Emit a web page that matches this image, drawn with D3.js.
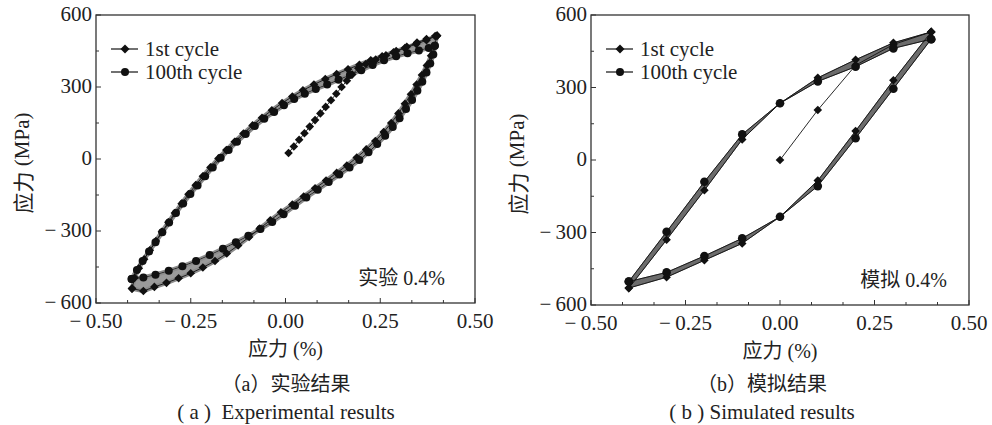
<!DOCTYPE html>
<html>
<head>
<meta charset="utf-8">
<script src="https://cdn.jsdelivr.net/npm/d3@7/dist/d3.min.js"></script>
<style>
  body { margin: 0; background: #fff; }
  text { fill: #222; }
</style>
</head>
<body>
<svg id="chart" width="992" height="425"></svg>
<script>
// ---- axis ticks ----
const xTicks = [-0.5, -0.25, 0, 0.25, 0.5];
const yTicks = [-600, -300, 0, 300, 600];

// ---- (a) experimental, [strain %, stress MPa] ----
const expFirstLoad = [[0.008,25],[0.022,52],[0.036,80],[0.050,107],[0.064,135],[0.078,162],[0.092,190],[0.106,217],
  [0.120,245],[0.134,272],[0.148,300],[0.162,326],[0.176,352],[0.192,378],[0.212,396],[0.238,414],[0.265,432],
  [0.292,450],[0.320,468],[0.347,485],[0.372,500],[0.395,512]];
const expFirstDown = [[0.400,514],[0.393,470],[0.384,430],[0.373,390],[0.360,350],[0.346,310],[0.331,270],[0.315,230],
  [0.298,190],[0.279,150],[0.259,112],[0.237,75],[0.213,40],[0.188,6],[0.162,-27],[0.135,-58],[0.107,-90],[0.078,-122],
  [0.048,-156],[0.018,-190],[-0.012,-222],[-0.040,-255],[-0.068,-290],[-0.096,-325],[-0.125,-360],[-0.155,-394],
  [-0.186,-425],[-0.218,-452],[-0.250,-476],[-0.282,-497],[-0.314,-516],[-0.346,-533],[-0.375,-550],[-0.405,-540]];
const expFirstUp = [[-0.405,-540],[-0.398,-495],[-0.387,-455],[-0.373,-418],[-0.358,-380],[-0.342,-342],[-0.326,-303],
  [-0.309,-264],[-0.292,-225],[-0.274,-186],[-0.256,-147],[-0.237,-109],[-0.218,-72],[-0.198,-35],[-0.177,2],
  [-0.156,37],[-0.134,72],[-0.111,106],[-0.087,140],[-0.062,172],[-0.036,203],[-0.009,233],[0.018,260],[0.046,286],
  [0.075,310],[0.105,333],[0.135,354],[0.165,374],[0.195,393],[0.225,411],[0.255,428],[0.285,445],[0.315,462],
  [0.345,479],[0.372,495],[0.400,514]];
const expHundredDown = [[0.394,472],[0.390,435],[0.382,398],[0.372,360],[0.361,322],[0.348,284],[0.334,246],[0.318,208],
  [0.301,170],[0.283,133],[0.263,97],[0.242,62],[0.219,28],[0.195,-4],[0.169,-35],[0.142,-65],[0.114,-96],[0.085,-128],
  [0.055,-160],[0.025,-195],[-0.005,-230],[-0.035,-262],[-0.066,-292],[-0.098,-320],[-0.131,-347],[-0.165,-374],
  [-0.200,-400],[-0.236,-425],[-0.272,-447],[-0.308,-466],[-0.343,-482],[-0.375,-494],[-0.406,-500]];
const expHundredUp = [[-0.406,-500],[-0.392,-462],[-0.377,-425],[-0.360,-385],[-0.343,-347],[-0.325,-305],[-0.307,-265],
  [-0.289,-225],[-0.270,-185],[-0.251,-146],[-0.232,-110],[-0.212,-72],[-0.192,-35],[-0.171,5],[-0.150,38],[-0.128,72],
  [-0.105,104],[-0.081,137],[-0.056,168],[-0.030,196],[-0.004,224],[0.023,250],[0.051,272],[0.080,292],[0.110,310],
  [0.140,330],[0.170,350],[0.200,370],[0.230,392],[0.260,411],[0.292,428],[0.322,441],[0.352,452],[0.378,463],[0.394,472]];

// ---- (b) simulated ----
const simLoadStrain = [0, 0.1, 0.2, 0.3, 0.4];
const simFirstLoad = [0, 207, 392, 478, 530];
const simDownStrain = [0.4, 0.3, 0.2, 0.1, 0, -0.1, -0.2, -0.3, -0.4];
const simFirstDown = [530, 330, 120, -85, -235, -345, -415, -485, -530];
const simHundredDown = [500, 295, 90, -108, -235, -324, -397, -465, -503];
const simUpStrain = [-0.4, -0.3, -0.2, -0.1, 0, 0.1, 0.2, 0.3, 0.4];
const simFirstUp = [-530, -330, -125, 85, 235, 340, 415, 485, 530];
const simHundredUp = [-503, -297, -90, 106, 235, 325, 386, 462, 500];

const legendNames = ["1st cycle", "100th cycle"];

const SERIF = "'Liberation Serif', 'Times New Roman', Times, serif";
const CJK = "'Noto Sans CJK SC', 'Noto Sans CJK JP', sans-serif";

const svg = d3.select("#chart");

// CJK runs in the CJK font, everything else in the serif font
function richText(sel, str) {
  const runs = str.match(/[\u3000-\u9fff\uff00-\uffef]+|[^\u3000-\u9fff\uff00-\uffef]+/g);
  runs.forEach(r => {
    const isCjk = /[\u3000-\u9fff\uff00-\uffef]/.test(r);
    sel.append("tspan")
      .attr("font-family", isCjk ? CJK : SERIF)
      .style("white-space", "pre")
      .text(r);
  });
  return sel;
}

const panels = [
  {
    left: 96, right: 475, top: 15, bottom: 303, bandFill: "#9a9a9a", r: 4, s: 4.3, wide: 4.5,
    first: [expFirstLoad, expFirstDown, expFirstUp],
    hundred: [expHundredDown, expHundredUp],
    bands: [[expFirstDown, expHundredDown], [expFirstUp, expHundredUp]],
    note: "实验 0.4%", noteRight: 30, capX: 286,
    cap1: "（a）实验结果", cap2: "( a )  Experimental results"
  },
  {
    left: 591, right: 969, top: 15, bottom: 305, bandFill: "#6c6c6c", r: 4.3, s: 4.3, wide: 0,
    first: [d3.zip(simLoadStrain, simFirstLoad), d3.zip(simDownStrain, simFirstDown), d3.zip(simUpStrain, simFirstUp)],
    hundred: [d3.zip(simDownStrain, simHundredDown), d3.zip(simUpStrain, simHundredUp)],
    bands: [[d3.zip(simDownStrain, simFirstDown), d3.zip(simDownStrain, simHundredDown)],
            [d3.zip(simUpStrain, simFirstUp), d3.zip(simUpStrain, simHundredUp)]],
    note: "模拟 0.4%", noteRight: 22, capX: 762,
    cap1: "（b）模拟结果", cap2: "( b ) Simulated results"
  }
];

const fmtX = d => (d < 0 ? "\u2212\u2009" : "") + Math.abs(d).toFixed(2);
const fmtY = d => (d < 0 ? "\u2212\u2009" : "") + Math.abs(d);
const diamond = s => `M0,${-s}L${s},0L0,${s}L${-s},0Z`;

panels.forEach(p => {
  const g = svg.append("g");
  const x = d3.scaleLinear().domain([-0.5, 0.5]).range([p.left, p.right]);
  const y = d3.scaleLinear().domain([-600, 600]).range([p.bottom, p.top]);
  const line = d3.line().x(d => x(d[0])).y(d => y(d[1]));

  // grey band between 1st and 100th cycles (intermediate cycles)
  p.bands.forEach(([a, b]) => {
    g.append("path")
      .attr("d", line(a.concat(b.slice().reverse())) + "Z")
      .attr("fill", p.bandFill)
      .attr("stroke", "#444")
      .attr("stroke-width", 0.7);
  });
  if (p.wide) {
    p.hundred.concat(p.first.slice(1)).forEach(arr => {
      g.append("path").attr("d", line(arr))
        .attr("fill", "none").attr("stroke", "#8c8c8c").attr("stroke-width", p.wide);
    });
    p.hundred.forEach(arr => {
      g.append("path").attr("d", line(arr))
        .attr("fill", "none").attr("stroke", "#e6e6e6").attr("stroke-width", 0.7);
    });
  }

  // lines
  p.first.concat(p.hundred).forEach(arr => {
    g.append("path").attr("d", line(arr))
      .attr("fill", "none").attr("stroke", "#111").attr("stroke-width", 0.9);
  });

  // markers
  p.first.forEach(arr => {
    g.selectAll(null).data(arr).join("path")
      .attr("d", diamond(p.s))
      .attr("transform", d => `translate(${x(d[0])},${y(d[1])})`)
      .attr("fill", "#111");
  });
  p.hundred.forEach(arr => {
    g.selectAll(null).data(arr).join("circle")
      .attr("cx", d => x(d[0])).attr("cy", d => y(d[1]))
      .attr("r", p.r).attr("fill", "#111");
  });

  // frame
  g.append("rect")
    .attr("x", p.left).attr("y", p.top)
    .attr("width", p.right - p.left).attr("height", p.bottom - p.top)
    .attr("fill", "none").attr("stroke", "#333").attr("stroke-width", 1.3);

  // ticks (inward)
  const xMinor = d3.range(-0.5, 0.5001, 0.25 / 3);
  g.selectAll(null).data(xMinor).join("line")
    .attr("x1", d => x(d)).attr("x2", d => x(d))
    .attr("y1", p.bottom).attr("y2", (d, i) => p.bottom - (i % 3 === 0 ? 5 : 3))
    .attr("stroke", "#333").attr("stroke-width", 1);
  const yMinor = d3.range(-600, 601, 150);
  g.selectAll(null).data(yMinor).join("line")
    .attr("y1", d => y(d)).attr("y2", d => y(d))
    .attr("x1", p.left).attr("x2", (d, i) => p.left + (i % 2 === 0 ? 5 : 3))
    .attr("stroke", "#333").attr("stroke-width", 1);

  // tick labels
  g.selectAll(null).data(xTicks).join("text")
    .attr("x", d => x(d)).attr("y", p.bottom + 25)
    .attr("text-anchor", "middle").attr("font-size", 21).attr("font-family", SERIF)
    .text(fmtX);
  g.selectAll(null).data(yTicks).join("text")
    .attr("x", p.left - 4).attr("y", d => y(d) + 6)
    .attr("text-anchor", "end").attr("font-size", 21).attr("font-family", SERIF)
    .text(fmtY);

  // axis titles
  richText(g.append("text")
    .attr("x", (p.left + p.right) / 2).attr("y", p.bottom + 53)
    .attr("text-anchor", "middle").attr("font-size", 20), "应力 (%)");
  richText(g.append("text")
    .attr("transform", `translate(${p.left - 74},${(p.top + p.bottom) / 2 + 4}) rotate(-90)`)
    .attr("text-anchor", "middle").attr("dominant-baseline", "central").attr("font-size", 21), "应力 (MPa)");

  // legend
  legendNames.forEach((name, i) => {
    const ly = p.top + 34 + i * 23;
    g.append("line")
      .attr("x1", p.left + 15).attr("x2", p.left + 42)
      .attr("y1", ly).attr("y2", ly)
      .attr("stroke", "#111").attr("stroke-width", 1.2);
    if (i === 0) {
      g.append("path").attr("d", diamond(4.5))
        .attr("transform", `translate(${p.left + 29},${ly})`).attr("fill", "#111");
    } else {
      g.append("circle").attr("cx", p.left + 29).attr("cy", ly).attr("r", 4).attr("fill", "#111");
    }
    g.append("text")
      .attr("x", p.left + 49).attr("y", ly + 7)
      .attr("font-size", 21).attr("font-family", SERIF)
      .text(name);
  });

  // annotation
  richText(g.append("text")
    .attr("x", p.right - p.noteRight).attr("y", p.bottom - 18)
    .attr("text-anchor", "end").attr("font-size", 20), p.note);

  // captions
  richText(g.append("text")
    .attr("x", p.capX).attr("y", 391)
    .attr("text-anchor", "middle").attr("font-size", 20), p.cap1);
  g.append("text")
    .attr("x", p.capX).attr("y", 419)
    .attr("text-anchor", "middle").attr("font-size", 21).attr("font-family", SERIF)
    .style("white-space", "pre")
    .text(p.cap2);
});
</script>
</body>
</html>
